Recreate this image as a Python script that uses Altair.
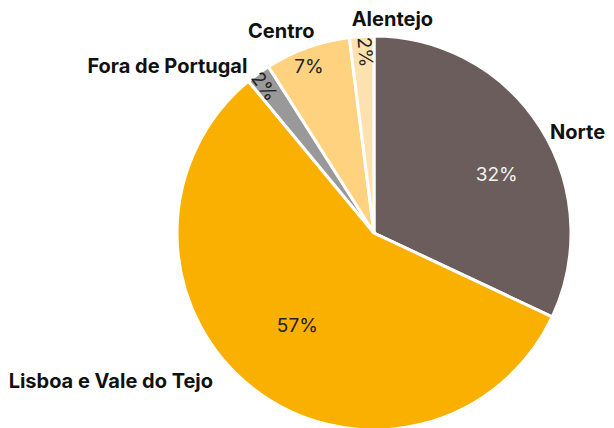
import altair as alt
import pandas as pd

categories = ["Norte", "Lisboa e Vale do Tejo", "Fora de Portugal", "Centro", "Alentejo"]
values = [32, 57, 2, 7, 2]
colors = ["#6b5d5b", "#f9b000", "#999999", "#ffd27f", "#fde2b0"]
order = [1, 2, 3, 4, 5]

df = pd.DataFrame({"cat": categories, "value": values, "ord": order})

CX, CY = 366, 225
FONT = "Inter"

color_scale = alt.Scale(domain=categories, range=colors)

base = alt.Chart(df).encode(
    theta=alt.Theta("value:Q", stack=True),
    order=alt.Order("ord:Q"),
    x=alt.value(CX),
    y=alt.value(CY),
)

pie = base.mark_arc(outerRadius=197, stroke="white", strokeWidth=3).encode(
    color=alt.Color("cat:N", scale=color_scale, legend=None)
)


def inner(name, radius, color, dx=0, dy=0, angle=0):
    return base.transform_calculate(
        t=f"datum.cat == '{name}' ? datum.value + '%' : ''"
    ).mark_text(radius=radius, fontSize=19, font=FONT, align="center", baseline="middle",
                color=color, dx=dx, dy=dy, angle=angle).encode(text="t:N")


def outer(name, align, dx, dy):
    return base.transform_calculate(
        t=f"datum.cat == '{name}' ? datum.cat : ''"
    ).mark_text(radius=212, fontSize=20, fontWeight="bold", font=FONT, align=align,
                baseline="middle", color="#111111", dx=dx, dy=dy).encode(text="t:N")


inner_labels = [
    inner("Norte", 130, "#f2f2f2", 13, 12),
    inner("Lisboa e Vale do Tejo", 130, "#222222", 3, -10),
    inner("Fora de Portugal", 180, "#222222", -3, 3, 54),
    inner("Centro", 180, "#222222", -4, 3),
    inner("Alentejo", 180, "#222222", -1, -2, 86),
]

labels = [
    outer("Norte", "left", -3, 14),
    outer("Lisboa e Vale do Tejo", "right", -31, -19),
    outer("Fora de Portugal", "right", -2, 6),
    outer("Centro", "center", -21, -2),
    outer("Alentejo", "left", -9, -1),
]

chart = alt.layer(pie, *inner_labels, *labels).properties(
    width=598, height=420, autosize=alt.AutoSizeParams(type="none"), padding=0
).configure_view(stroke=None)

chart.save("out.html", embed_options={"renderer": "svg", "actions": False})
